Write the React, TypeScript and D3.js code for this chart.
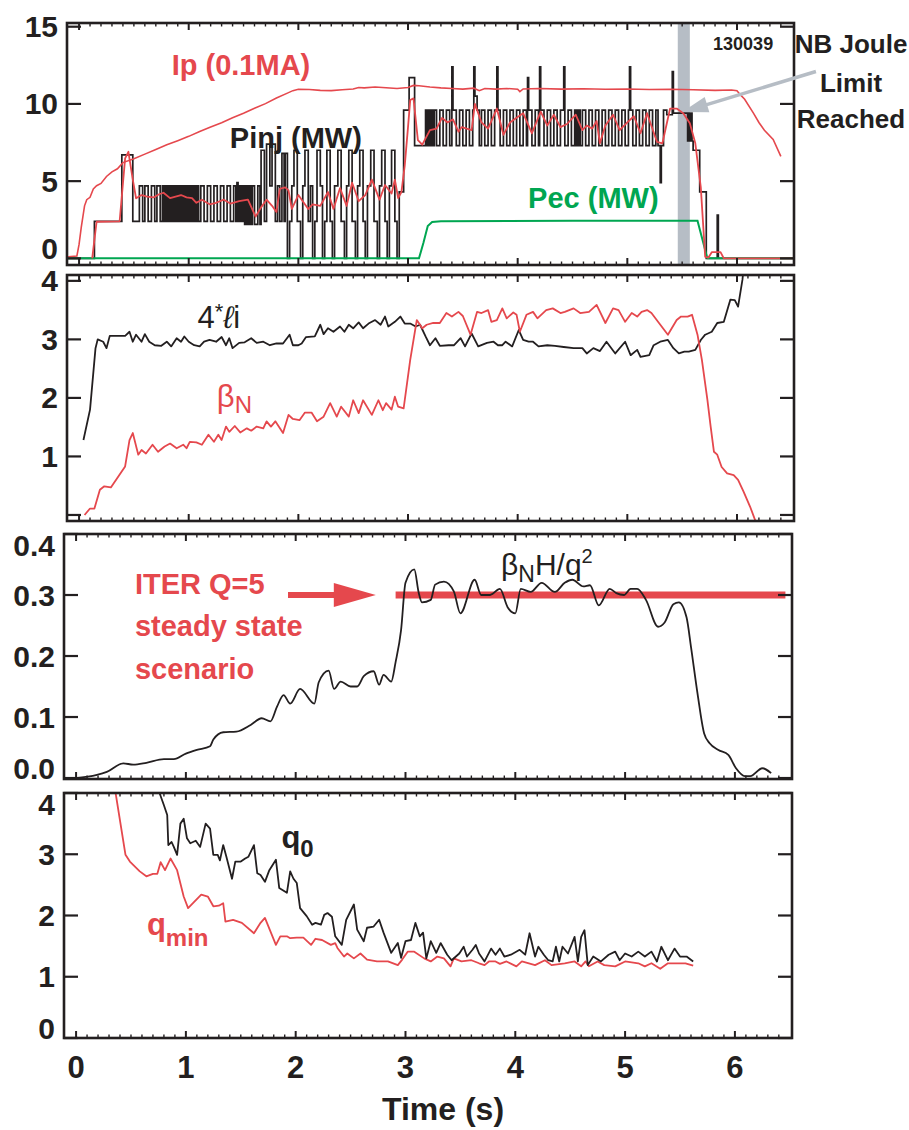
import React from 'react';
import * as d3 from 'd3';

// shot 130039 traces (time in s)
const T_DOMAIN: [number, number] = [-0.11, 6.52];

const ipTrace: [number, number][] = [
  [-0.1, 0.1], [-0.02, 0.15], [0.0, 0.9], [0.02, 2.0], [0.05, 3.4], [0.07, 3.8], [0.1, 3.95], [0.13, 4.5],
  [0.16, 4.7], [0.2, 4.85], [0.25, 5.3], [0.3, 5.6], [0.35, 5.8], [0.4, 6.2], [0.5, 6.45], [0.6, 6.75],
  [0.7, 7.05], [0.8, 7.35], [0.9, 7.62], [1.0, 7.9], [1.1, 8.22], [1.2, 8.5], [1.3, 8.78], [1.4, 9.1],
  [1.5, 9.4], [1.6, 9.72], [1.7, 10.02], [1.8, 10.38], [1.9, 10.7], [1.95, 10.86], [2.0, 10.95], [2.1, 10.93],
  [2.2, 10.88], [2.3, 10.86], [2.4, 10.92], [2.5, 10.97], [2.55, 11.06], [2.6, 11.04], [2.7, 11.1], [2.8, 11.05],
  [2.9, 11.0], [3.0, 11.06], [3.05, 11.2], [3.1, 11.18], [3.2, 11.1], [3.3, 11.04], [3.4, 11.0], [3.5, 10.96],
  [3.6, 11.02], [3.65, 10.86], [3.7, 11.0], [3.8, 10.96], [3.9, 11.0], [4.0, 10.95], [4.02, 10.8], [4.05, 10.97],
  [4.2, 11.0], [4.4, 10.96], [4.6, 10.98], [4.8, 10.95], [5.0, 10.97], [5.2, 10.93], [5.4, 10.95], [5.6, 10.92],
  [5.8, 10.88], [5.95, 10.9], [6.0, 10.85], [6.03, 10.6], [6.07, 10.3], [6.15, 9.4], [6.2, 8.8], [6.25, 8.3],
  [6.33, 7.7], [6.4, 6.6],
];

// neutral beam power, a modulated square wave (step after)
const pinjSteps: [number, number][] = [
  [-0.1, 0], [0.14, 2.4], [0.39, 6.7], [0.49, 2.4], [0.55, 4.7], [0.58, 2.4], [0.6, 4.7], [0.63, 2.4],
  [0.66, 4.7], [0.69, 2.4], [0.71, 4.7], [0.74, 2.4], [0.76, 4.7], [0.77, 2.4], [0.78, 4.7], [0.79, 2.4],
  [0.8, 4.7], [0.81, 2.4], [0.82, 4.7], [0.83, 2.4], [0.84, 4.7], [0.85, 2.4], [0.86, 4.7], [0.87, 2.4],
  [0.88, 4.7], [0.89, 2.4], [0.9, 4.7], [0.91, 2.4], [0.92, 4.7], [0.93, 2.4], [0.94, 4.7], [0.95, 2.4],
  [0.96, 4.7], [0.97, 2.4], [0.98, 4.7], [0.99, 2.4], [1.0, 4.7], [1.01, 2.4], [1.02, 4.7], [1.03, 2.4],
  [1.04, 4.7], [1.05, 2.4], [1.06, 4.7], [1.07, 2.4], [1.08, 4.7], [1.09, 2.4], [1.11, 4.7], [1.14, 2.4],
  [1.17, 4.7], [1.2, 2.4], [1.23, 4.7], [1.26, 2.4], [1.29, 4.7], [1.32, 2.4], [1.35, 4.7], [1.38, 2.4],
  [1.41, 4.7], [1.43, 2.4], [1.44, 4.9], [1.45, 2.4],
  [1.46, 4.7], [1.47, 2.4], [1.48, 4.7], [1.49, 2.4], [1.5, 4.7], [1.51, 2.2], [1.52, 4.7], [1.53, 2.2],
  [1.54, 4.7], [1.55, 2.2], [1.56, 4.7], [1.57, 2.2], [1.58, 4.7], [1.6, 2.2], [1.63, 4.7], [1.65, 2.2],
  [1.66, 7.0], [1.69, 2.4], [1.71, 7.4], [1.74, 4.7], [1.76, 7.4], [1.79, 2.4], [1.81, 4.7], [1.83, 2.4],
  [1.85, 6.8], [1.87, 2.4], [1.88, 6.8], [1.9, 0], [1.92, 2.4], [1.94, 4.7], [1.96, 7.0], [1.99, 2.4],
  [2.02, 0], [2.04, 4.7], [2.06, 7.0], [2.09, 2.4], [2.11, 4.7], [2.13, 0], [2.15, 2.4], [2.17, 7.0],
  [2.2, 4.7], [2.22, 0], [2.24, 2.4], [2.26, 7.0], [2.29, 2.4], [2.31, 0], [2.33, 4.7], [2.36, 7.0],
  [2.39, 2.4], [2.42, 0], [2.44, 4.7], [2.46, 7.0], [2.49, 2.4], [2.52, 0], [2.54, 4.7], [2.56, 7.0],
  [2.59, 2.4], [2.61, 0], [2.63, 4.7], [2.66, 7.0], [2.69, 2.4], [2.72, 0], [2.74, 4.7], [2.76, 7.0],
  [2.79, 2.4], [2.81, 0], [2.83, 4.7], [2.85, 7.0], [2.88, 2.4], [2.9, 0], [2.92, 4.3], [2.96, 9.6],
  [3.01, 11.7], [3.06, 7.3], [3.16, 9.6], [3.17, 7.3], [3.18, 9.6], [3.19, 7.3], [3.2, 9.6], [3.21, 7.3],
  [3.22, 9.6], [3.23, 7.3], [3.24, 9.6], [3.26, 7.3], [3.29, 9.6], [3.32, 7.3], [3.35, 9.6], [3.38, 7.3],
  [3.4, 12.4], [3.41, 9.6], [3.44, 7.3], [3.47, 9.6], [3.5, 7.3], [3.53, 9.6], [3.56, 7.3], [3.59, 9.6],
  [3.6, 12.4], [3.61, 10.5], [3.63, 9.6], [3.65, 7.3], [3.67, 9.6], [3.7, 7.3], [3.73, 9.6], [3.76, 7.3],
  [3.79, 9.6], [3.81, 12.4], [3.82, 9.6], [3.84, 7.3], [3.87, 9.6], [3.9, 7.3], [3.93, 9.6], [3.96, 7.3],
  [3.99, 9.6], [4.02, 7.3], [4.05, 9.6], [4.08, 7.3], [4.09, 11.7], [4.1, 9.6], [4.13, 7.3], [4.16, 9.6],
  [4.19, 7.3], [4.2, 12.4], [4.21, 9.6], [4.24, 7.3], [4.27, 9.6], [4.3, 7.3], [4.33, 9.6], [4.36, 7.3],
  [4.39, 9.6], [4.42, 12.4], [4.43, 7.3], [4.46, 9.6], [4.49, 7.3], [4.52, 9.6], [4.53, 7.3], [4.54, 9.6],
  [4.55, 7.3], [4.56, 9.6], [4.57, 7.3], [4.59, 9.6], [4.62, 7.3], [4.65, 9.6], [4.68, 7.3], [4.71, 9.6],
  [4.74, 7.3], [4.77, 9.6], [4.8, 7.3], [4.83, 9.6], [4.86, 7.3], [4.89, 9.6], [4.92, 7.3], [4.95, 9.6],
  [4.98, 7.3], [5.01, 9.6], [5.02, 12.4], [5.03, 9.6], [5.05, 7.3], [5.08, 9.6], [5.11, 7.3], [5.14, 9.6],
  [5.17, 7.3], [5.2, 9.6], [5.23, 7.3], [5.26, 9.6], [5.28, 7.3], [5.3, 4.9], [5.31, 7.3], [5.33, 9.6],
  [5.36, 9.3], [5.41, 12.1], [5.42, 9.4], [5.55, 7.6], [5.56, 9.4], [5.57, 7.6], [5.58, 9.4], [5.59, 7.6],
  [5.6, 7.0], [5.66, 4.3], [5.72, 0], [5.82, 2.8], [5.83, 0], [6.52, 0],
];

// smoothed beam power (red trace through Pinj)
const pinjAvg: [number, number][] = [
  [0.12, 0], [0.14, 1.2], [0.16, 2.37], [0.37, 2.4], [0.42, 6.47], [0.45, 6.9], [0.49, 5.1], [0.52, 3.89],
  [0.57, 4.1], [0.62, 4.0], [0.68, 3.95], [0.73, 4.15], [0.77, 4.25], [0.83, 3.9], [0.88, 4.0], [0.93, 4.1],
  [0.98, 3.95], [1.03, 3.9], [1.07, 3.6], [1.12, 3.8], [1.19, 3.5], [1.25, 3.6], [1.32, 3.8], [1.38, 3.55],
  [1.46, 3.7], [1.54, 3.8], [1.61, 2.7], [1.66, 3.3], [1.71, 3.8], [1.76, 3.4], [1.8, 3.0], [1.83, 4.5],
  [1.88, 4.6], [1.91, 4.4], [1.94, 3.2], [2.0, 4.1], [2.04, 3.7], [2.09, 3.2], [2.13, 3.5], [2.2, 3.4],
  [2.27, 4.3], [2.32, 3.2], [2.38, 4.55], [2.44, 3.4], [2.49, 4.9], [2.55, 3.7], [2.61, 4.1], [2.67, 5.1],
  [2.74, 3.8], [2.79, 4.75], [2.85, 4.2], [2.88, 5.1], [2.91, 3.9], [2.94, 4.3], [2.97, 6.0], [3.0, 8.5],
  [3.02, 10.25], [3.05, 10.36], [3.09, 7.66], [3.13, 7.36], [3.2, 8.3], [3.26, 8.4], [3.31, 9.1], [3.36, 8.8],
  [3.41, 9.0], [3.46, 8.2], [3.49, 8.5], [3.58, 8.3], [3.61, 10.0], [3.67, 8.8], [3.73, 8.4], [3.81, 9.7],
  [3.87, 8.0], [3.93, 8.8], [3.99, 9.1], [4.05, 9.4], [4.13, 8.1], [4.21, 9.5], [4.27, 8.6], [4.33, 9.3],
  [4.39, 8.5], [4.45, 8.7], [4.53, 9.3], [4.59, 8.3], [4.63, 8.6], [4.68, 8.4], [4.72, 8.9], [4.75, 7.45],
  [4.8, 8.6], [4.87, 9.3], [4.93, 8.3], [5.0, 8.8], [5.06, 9.2], [5.12, 8.1], [5.18, 9.4], [5.27, 7.55],
  [5.32, 7.45], [5.39, 9.7], [5.45, 9.7], [5.51, 9.4], [5.57, 8.75], [5.62, 7.45], [5.67, 4.6], [5.71, 0.1],
  [5.74, 0.05], [5.77, 0.4], [5.85, 0.4], [5.88, 0], [6.52, 0],
];

const pecTrace: [number, number][] = [
  [-0.1, 0], [3.1, 0], [3.14, 1.0], [3.18, 2.1], [3.22, 2.35], [3.3, 2.4], [4.5, 2.43], [5.64, 2.43],
  [5.73, 0], [6.52, 0],
];

const li4Trace: [number, number][] = [
  [0.04, 1.28], [0.1, 1.8], [0.15, 2.85], [0.17, 3.0], [0.22, 2.96], [0.25, 2.85], [0.28, 3.06], [0.42, 3.06],
  [0.46, 3.13], [0.49, 2.96], [0.52, 3.08], [0.57, 2.96], [0.6, 3.09], [0.64, 2.96], [0.69, 2.9], [0.75, 2.89],
  [0.8, 2.96], [0.84, 2.88], [0.89, 3.02], [0.93, 2.96], [0.96, 3.05], [1.0, 2.96], [1.05, 2.9], [1.1, 2.88],
  [1.14, 2.96], [1.19, 2.99], [1.25, 2.96], [1.3, 3.04], [1.34, 2.9], [1.37, 3.02], [1.4, 2.85], [1.46, 2.94],
  [1.51, 2.95], [1.57, 3.02], [1.62, 2.94], [1.68, 2.96], [1.74, 2.9], [1.8, 2.93], [1.86, 2.93], [1.92, 3.08],
  [1.95, 2.9], [2.0, 2.9], [2.03, 2.93], [2.07, 3.04], [2.15, 3.05], [2.2, 3.25], [2.23, 3.09], [2.27, 3.19],
  [2.32, 3.13], [2.38, 3.22], [2.42, 3.13], [2.46, 3.25], [2.5, 3.19], [2.55, 3.29], [2.59, 3.19], [2.64, 3.27],
  [2.7, 3.33], [2.75, 3.25], [2.79, 3.39], [2.82, 3.22], [2.88, 3.3], [2.93, 3.39], [2.97, 3.27], [3.02, 3.27],
  [3.07, 3.22], [3.11, 3.25], [3.16, 3.05], [3.2, 2.9], [3.25, 3.02], [3.29, 2.89], [3.37, 2.9], [3.42, 2.9],
  [3.48, 3.02], [3.52, 2.88], [3.58, 3.1], [3.64, 2.88], [3.72, 2.94], [3.78, 2.96], [3.82, 2.9], [3.86, 2.9],
  [3.89, 2.96], [3.95, 2.88], [4.01, 3.16], [4.05, 2.99], [4.1, 2.96], [4.14, 2.96], [4.19, 2.88], [4.27, 2.9],
  [4.34, 2.89], [4.42, 2.87], [4.51, 2.85], [4.59, 2.85], [4.63, 2.76], [4.69, 2.85], [4.75, 2.8], [4.81, 2.96],
  [4.89, 2.76], [4.98, 2.96], [5.03, 2.73], [5.09, 2.82], [5.12, 2.7], [5.2, 2.73], [5.24, 2.9], [5.3, 2.96],
  [5.37, 2.99], [5.42, 2.85], [5.47, 2.76], [5.52, 2.79], [5.56, 2.79], [5.62, 2.82], [5.67, 2.99], [5.71, 3.08],
  [5.77, 3.13], [5.82, 3.28], [5.88, 3.3], [5.94, 3.68], [5.98, 3.67], [6.01, 3.56], [6.05, 4.02], [6.07, 4.4],
];

const betaNTrace: [number, number][] = [
  [0.05, 0], [0.1, 0.11], [0.14, 0.11], [0.19, 0.43], [0.23, 0.49], [0.29, 0.47], [0.42, 0.83], [0.46, 1.28],
  [0.49, 1.4], [0.54, 1.03], [0.57, 1.11], [0.61, 1.05], [0.67, 1.2], [0.72, 1.08], [0.78, 1.17], [0.83, 1.22],
  [0.89, 1.14], [0.95, 1.2], [0.98, 1.14], [1.01, 1.25], [1.07, 1.24], [1.12, 1.2], [1.18, 1.37], [1.23, 1.25],
  [1.27, 1.37], [1.3, 1.28], [1.34, 1.51], [1.37, 1.42], [1.42, 1.52], [1.47, 1.41], [1.53, 1.48], [1.57, 1.44],
  [1.62, 1.51], [1.68, 1.48], [1.71, 1.6], [1.75, 1.51], [1.79, 1.6], [1.86, 1.4], [1.91, 1.71], [1.95, 1.64],
  [2.01, 1.62], [2.06, 1.75], [2.12, 1.75], [2.17, 1.6], [2.23, 1.68], [2.29, 1.91], [2.35, 1.68], [2.39, 1.85],
  [2.46, 1.68], [2.5, 1.96], [2.55, 1.74], [2.59, 1.96], [2.67, 1.71], [2.73, 1.96], [2.77, 1.79], [2.8, 1.91],
  [2.85, 1.8], [2.88, 2.02], [2.91, 1.85], [2.96, 1.82], [3.02, 2.65], [3.08, 3.33], [3.13, 3.19], [3.17, 3.25],
  [3.23, 3.28], [3.29, 3.28], [3.35, 3.45], [3.4, 3.39], [3.46, 3.47], [3.5, 3.4], [3.57, 3.08], [3.63, 3.47],
  [3.67, 3.45], [3.73, 3.5], [3.76, 3.3], [3.81, 3.33], [3.86, 3.53], [3.9, 3.36], [3.96, 3.46], [3.99, 3.42],
  [4.02, 3.13], [4.08, 3.42], [4.14, 3.47], [4.18, 3.36], [4.26, 3.5], [4.32, 3.53], [4.39, 3.45], [4.43, 3.47],
  [4.51, 3.53], [4.57, 3.45], [4.65, 3.47], [4.72, 3.59], [4.8, 3.28], [4.87, 3.53], [4.92, 3.5], [4.98, 3.3],
  [5.04, 3.45], [5.09, 3.39], [5.13, 3.47], [5.18, 3.5], [5.22, 3.45], [5.28, 3.3], [5.37, 3.08], [5.45, 3.33],
  [5.49, 3.39], [5.55, 3.39], [5.59, 3.42], [5.64, 3.08], [5.68, 2.65], [5.73, 1.97], [5.76, 1.51], [5.79, 1.08],
  [5.82, 1.03], [5.86, 0.82], [5.91, 0.71], [5.97, 0.68], [6.01, 0.6], [6.06, 0.4], [6.12, 0.14], [6.17, -0.11],
];

const bnhTrace: [number, number][] = [
  [-0.01, 0], [0.19, 0.005], [0.28, 0.01], [0.43, 0.024], [0.52, 0.022], [0.64, 0.025], [0.8, 0.031], [0.89, 0.031],
  [1.0, 0.04], [1.1, 0.046], [1.22, 0.052], [1.25, 0.063], [1.34, 0.075], [1.46, 0.076], [1.59, 0.087], [1.69, 0.098],
  [1.77, 0.093], [1.83, 0.117], [1.89, 0.136], [1.95, 0.122], [2.04, 0.146], [2.17, 0.122], [2.21, 0.157], [2.3, 0.176],
  [2.35, 0.146], [2.41, 0.158], [2.5, 0.15], [2.56, 0.15], [2.62, 0.167], [2.71, 0.175], [2.76, 0.153], [2.8, 0.169],
  [2.87, 0.158], [2.91, 0.19], [2.96, 0.243], [3.0, 0.32], [3.08, 0.342], [3.12, 0.304], [3.15, 0.288], [3.23, 0.292],
  [3.27, 0.317], [3.35, 0.322], [3.44, 0.306], [3.5, 0.27], [3.63, 0.325], [3.69, 0.3], [3.77, 0.3], [3.86, 0.31],
  [3.93, 0.28], [4.0, 0.27], [4.05, 0.31], [4.14, 0.305], [4.24, 0.32], [4.36, 0.305], [4.45, 0.32], [4.52, 0.325],
  [4.62, 0.314], [4.68, 0.316], [4.76, 0.283], [4.86, 0.31], [4.92, 0.303], [4.99, 0.3], [5.05, 0.31], [5.11, 0.31],
  [5.19, 0.292], [5.3, 0.248], [5.36, 0.255], [5.44, 0.285], [5.49, 0.288], [5.56, 0.263], [5.6, 0.215], [5.66, 0.138],
  [5.72, 0.073], [5.77, 0.057], [5.85, 0.046], [5.94, 0.038], [6.01, 0.016], [6.09, 0.003], [6.14, 0.003], [6.25, 0.016],
  [6.33, 0.008],
];

const iterTarget = { value: 0.3, start: 2.91, end: 6.46, arrowFrom: 1.93, arrowTo: 2.73 };

const q0Trace: [number, number][] = [
  [0.7, 4.6], [0.76, 4.0], [0.8, 3.8], [0.83, 3.64], [0.84, 3.15], [0.87, 3.2], [0.89, 3.12], [0.92, 2.99],
  [0.95, 3.5], [0.98, 3.58], [1.01, 3.26], [1.04, 3.18], [1.09, 3.22], [1.13, 3.12], [1.18, 3.5], [1.22, 3.42],
  [1.25, 2.99], [1.29, 2.99], [1.31, 2.9], [1.34, 3.15], [1.37, 2.95], [1.42, 2.6], [1.45, 2.88], [1.5, 2.88],
  [1.54, 2.93], [1.57, 2.96], [1.62, 3.15], [1.65, 2.69], [1.68, 2.66], [1.72, 2.55], [1.76, 2.74], [1.82, 2.91],
  [1.85, 2.45], [1.92, 2.37], [1.95, 2.72], [1.98, 2.6], [2.01, 2.53], [2.04, 2.12], [2.1, 1.99], [2.15, 1.85],
  [2.18, 1.88], [2.23, 1.85], [2.26, 2.01], [2.29, 2.04], [2.33, 1.98], [2.36, 1.66], [2.42, 1.52], [2.46, 1.93],
  [2.53, 2.18], [2.56, 1.77], [2.62, 1.58], [2.65, 1.8], [2.71, 1.82], [2.76, 1.93], [2.8, 1.72], [2.87, 1.39],
  [2.93, 1.55], [2.96, 1.31], [3.0, 1.58], [3.05, 1.6], [3.09, 1.88], [3.13, 1.66], [3.16, 1.72], [3.19, 1.3],
  [3.23, 1.58], [3.28, 1.39], [3.32, 1.55], [3.38, 1.36], [3.42, 1.27], [3.49, 1.38], [3.53, 1.49], [3.56, 1.33],
  [3.61, 1.44], [3.64, 1.52], [3.67, 1.38], [3.72, 1.25], [3.78, 1.46], [3.82, 1.36], [3.86, 1.46], [3.9, 1.33],
  [3.96, 1.36], [4.04, 1.44], [4.09, 1.36], [4.13, 1.71], [4.18, 1.33], [4.21, 1.49], [4.26, 1.36], [4.3, 1.27],
  [4.34, 1.25], [4.37, 1.49], [4.4, 1.25], [4.43, 1.49], [4.48, 1.38], [4.54, 1.65], [4.57, 1.25], [4.6, 1.65],
  [4.63, 1.76], [4.66, 1.19], [4.71, 1.33], [4.78, 1.25], [4.85, 1.36], [4.91, 1.41], [4.95, 1.27], [5.0, 1.38],
  [5.06, 1.33], [5.12, 1.41], [5.18, 1.33], [5.24, 1.41], [5.29, 1.25], [5.33, 1.49], [5.39, 1.27], [5.45, 1.46],
  [5.5, 1.33], [5.56, 1.33], [5.62, 1.25],
];

const qminTrace: [number, number][] = [
  [0.3, 4.6], [0.36, 4.0], [0.45, 2.99], [0.49, 2.88], [0.58, 2.72], [0.64, 2.64], [0.7, 2.68], [0.74, 2.68],
  [0.77, 2.87], [0.81, 2.74], [0.86, 2.93], [0.92, 2.74], [0.98, 2.31], [1.02, 2.12], [1.14, 2.34], [1.2, 2.31],
  [1.25, 2.15], [1.3, 2.16], [1.34, 2.2], [1.36, 1.9], [1.43, 1.93], [1.51, 1.88], [1.62, 1.71], [1.68, 1.88],
  [1.72, 1.96], [1.77, 1.74], [1.82, 1.52], [1.86, 1.66], [1.92, 1.66], [1.95, 1.63], [2.01, 1.64], [2.07, 1.64],
  [2.14, 1.52], [2.18, 1.62], [2.24, 1.6], [2.32, 1.52], [2.36, 1.55], [2.38, 1.47], [2.44, 1.33], [2.47, 1.38],
  [2.53, 1.3], [2.59, 1.38], [2.65, 1.28], [2.74, 1.25], [2.84, 1.25], [2.93, 1.19], [2.97, 1.28], [3.02, 1.41],
  [3.08, 1.41], [3.17, 1.3], [3.23, 1.25], [3.29, 1.33], [3.35, 1.3], [3.41, 1.17], [3.44, 1.3], [3.51, 1.25],
  [3.6, 1.27], [3.67, 1.22], [3.72, 1.19], [3.76, 1.25], [3.82, 1.25], [3.86, 1.21], [3.92, 1.25], [4.01, 1.17],
  [4.06, 1.25], [4.18, 1.19], [4.27, 1.27], [4.33, 1.19], [4.45, 1.22], [4.54, 1.25], [4.6, 1.17], [4.64, 1.25],
  [4.67, 1.17], [4.75, 1.25], [4.81, 1.19], [4.91, 1.17], [5.0, 1.25], [5.12, 1.22], [5.18, 1.17], [5.24, 1.22],
  [5.32, 1.13], [5.39, 1.22], [5.55, 1.22], [5.62, 1.18],
];

const jouleLimit = { from: 5.46, to: 5.57 };

const p1Ticks = [0, 5, 10, 15];
const p2Ticks = [0, 1, 2, 3, 4];
const p2Labels = [1, 2, 3, 4];
const p3Ticks = [0, 0.1, 0.2, 0.3, 0.4];
const p4Ticks = [0, 1, 2, 3, 4];
const timeTicks = [0, 1, 2, 3, 4, 5, 6];

const FONT = "'Liberation Sans', Arial, Helvetica, sans-serif";
const INK = '#231f20';
const RED = '#e5484d';
const GREEN = '#00a651';
const GREY = '#b6bdc5';

type Panel = {
  id: string;
  left: number;
  right: number;
  top: number;
  bottom: number;
  yDomain: [number, number];
  ticks: number[];
  labels: number[];
  fmt: (v: number) => string;
  shiftTop: boolean;
};

const panels: Panel[] = [
  { id: 'p1', left: 67, right: 794, top: 23, bottom: 265, yDomain: [-0.43, 15.24], ticks: p1Ticks, labels: p1Ticks, fmt: String, shiftTop: false },
  { id: 'p2', left: 67, right: 794, top: 275, bottom: 521, yDomain: [-0.103, 4.1], ticks: p2Ticks, labels: p2Labels, fmt: String, shiftTop: false },
  { id: 'p3', left: 64, right: 792, top: 534, bottom: 779, yDomain: [-0.0016, 0.4], ticks: p3Ticks, labels: p3Ticks, fmt: d3.format('.1f'), shiftTop: true },
  { id: 'p4', left: 64, right: 792, top: 793, bottom: 1038, yDomain: [0, 4], ticks: p4Ticks, labels: p4Ticks, fmt: String, shiftTop: true },
];

function scalesFor(p: Panel) {
  const x = d3.scaleLinear().domain(T_DOMAIN).range([p.left, p.right]);
  const y = d3.scaleLinear().domain(p.yDomain).range([p.bottom, p.top]);
  return { x, y };
}

function Frame({ p }: { p: Panel }) {
  const { x, y } = scalesFor(p);
  const minor = d3.range(0, 65).map((i) => i / 10).filter((t) => t > T_DOMAIN[0] && t < T_DOMAIN[1]);
  return (
    <g>
      {minor.map((t, i) => {
        const major = Math.abs(t - Math.round(t)) < 1e-6;
        const len = major ? 7 : 3.5;
        return (
          <g key={i} stroke={INK} strokeWidth={major ? 2 : 1.4}>
            <line x1={x(t)} x2={x(t)} y1={p.top} y2={p.top + len} />
            <line x1={x(t)} x2={x(t)} y1={p.bottom} y2={p.bottom - len} />
          </g>
        );
      })}
      {p.ticks.map((v) => (
        <g key={v} stroke={INK} strokeWidth={2.2}>
          <line x1={p.left} x2={p.left + 14} y1={y(v)} y2={y(v)} />
          <line x1={p.right} x2={p.right - 14} y1={y(v)} y2={y(v)} />
        </g>
      ))}
      <rect x={p.left} y={p.top} width={p.right - p.left} height={p.bottom - p.top} fill="none" stroke={INK} strokeWidth={2.6} />
      {p.labels.map((v) => {
        let cy = y(v);
        if (v === p.ticks[0]) cy -= 10;
        if (p.shiftTop && v === p.ticks[p.ticks.length - 1]) cy += 11;
        return (
          <text key={v} x={p.left - 9} y={cy + 10.5} textAnchor="end" fontFamily={FONT} fontWeight="bold" fontSize={30} fill={INK}>
            {p.fmt(v)}
          </text>
        );
      })}
    </g>
  );
}

function arrowPath(x0: number, y0: number, x1: number, y1: number, headLen: number, headHalf: number) {
  const dx = x1 - x0;
  const dy = y1 - y0;
  const L = Math.hypot(dx, dy);
  const ux = dx / L;
  const uy = dy / L;
  const bx = x1 - ux * headLen;
  const by = y1 - uy * headLen;
  return {
    shaft: { x1: x0, y1: y0, x2: bx + ux * 2, y2: by + uy * 2 },
    head: `M${x1},${y1}L${bx - uy * headHalf},${by + ux * headHalf}L${bx + uy * headHalf},${by - ux * headHalf}Z`,
  };
}

export default function App() {
  const [P1, P2, P3, P4] = panels;
  const s1 = scalesFor(P1);
  const s2 = scalesFor(P2);
  const s3 = scalesFor(P3);
  const s4 = scalesFor(P4);

  const mk = (s: { x: d3.ScaleLinear<number, number>; y: d3.ScaleLinear<number, number> }, curve: d3.CurveFactory = d3.curveLinear) =>
    d3.line<[number, number]>().x((d) => s.x(d[0])).y((d) => s.y(d[1])).curve(curve);

  const line1 = mk(s1);
  const step1 = mk(s1, d3.curveStepAfter);
  const line2 = mk(s2);
  const line3 = mk(s3, d3.curveMonotoneX);
  const line4 = mk(s4);

  const nbArrow = arrowPath(s1.x(6.72), s1.y(12.1), s1.x(5.5), s1.y(9.47), 26, 8);
  const iterArrow = arrowPath(s3.x(iterTarget.arrowFrom), s3.y(iterTarget.value), s3.x(iterTarget.arrowTo), s3.y(iterTarget.value), 42, 12);

  return (
    <svg width={909} height={1130} style={{ position: 'absolute', left: 0, top: 0, background: '#fff' }}>
      <defs>
        {panels.map((p) => (
          <clipPath key={p.id} id={`clip-${p.id}`}>
            <rect x={p.left} y={p.top} width={p.right - p.left} height={p.bottom - p.top} />
          </clipPath>
        ))}
      </defs>

      {/* panel 1: Ip, Pinj, Pec */}
      <g clipPath="url(#clip-p1)">
        <rect x={s1.x(jouleLimit.from)} y={P1.top} width={s1.x(jouleLimit.to) - s1.x(jouleLimit.from)} height={P1.bottom - P1.top} fill={GREY} />
        <path d={step1(pinjSteps) || ''} fill="none" stroke={INK} strokeWidth={1.7} />
        <path d={line1(pecTrace) || ''} fill="none" stroke={GREEN} strokeWidth={2} />
        <path d={line1(ipTrace) || ''} fill="none" stroke={RED} strokeWidth={1.6} />
        <path d={line1(pinjAvg) || ''} fill="none" stroke={RED} strokeWidth={1.8} strokeLinejoin="round" />
      </g>
      <Frame p={P1} />
      <line {...nbArrow.shaft} stroke={GREY} strokeWidth={3.5} />
      <path d={nbArrow.head} fill={GREY} />
      <g fontFamily={FONT} fontWeight="bold">
        <text x={s1.x(0.845)} y={s1.y(11.87)} fontSize={29} fill={RED}>Ip (0.1MA)</text>
        <text x={s1.x(1.375)} y={s1.y(7.14)} fontSize={29} fill={INK}>Pinj (MW)</text>
        <text x={s1.x(4.095)} y={s1.y(3.26)} fontSize={29} fill={GREEN}>Pec (MW)</text>
        <text x={s1.x(6.33)} y={s1.y(13.49)} fontSize={18} fill={INK} textAnchor="end">130039</text>
        <g fontSize={26} fill={INK} textAnchor="middle">
          <text x={851} y={53}>NB Joule</text>
          <text x={851} y={92}>Limit</text>
          <text x={851} y={128}>Reached</text>
        </g>
      </g>

      {/* panel 2: 4*li, betaN */}
      <g clipPath="url(#clip-p2)">
        <path d={line2(li4Trace) || ''} fill="none" stroke={INK} strokeWidth={1.8} strokeLinejoin="round" />
        <path d={line2(betaNTrace) || ''} fill="none" stroke={RED} strokeWidth={1.8} strokeLinejoin="round" />
      </g>
      <Frame p={P2} />
      <text x={s2.x(1.08)} y={s2.y(3.2)} fontFamily={FONT} fontSize={31} fill={INK}>
        4<tspan fontSize={22} dy={-9}>*</tspan>
        <tspan dy={9} fontStyle="italic">ℓ</tspan>
        <tspan>i</tspan>
      </text>
      <text x={s2.x(1.256)} y={s2.y(1.85)} fontFamily={FONT} fontSize={31} fill={RED}>
        β<tspan fontSize={24} dy={6}>N</tspan>
      </text>

      {/* panel 3: betaN H / q95^2 */}
      <g clipPath="url(#clip-p3)">
        <line x1={s3.x(iterTarget.start)} x2={s3.x(iterTarget.end)} y1={s3.y(iterTarget.value)} y2={s3.y(iterTarget.value)} stroke={RED} strokeWidth={7} />
        <path d={line3(bnhTrace) || ''} fill="none" stroke={INK} strokeWidth={1.8} />
      </g>
      <Frame p={P3} />
      <line {...iterArrow.shaft} stroke={RED} strokeWidth={6} />
      <path d={iterArrow.head} fill={RED} />
      <g fontFamily={FONT} fontWeight="bold" fontSize={29} fill={RED}>
        <text x={s3.x(0.536)} y={s3.y(0.302)}>ITER Q=5</text>
        <text x={s3.x(0.536)} y={s3.y(0.233)}>steady state</text>
        <text x={s3.x(0.536)} y={s3.y(0.162)}>scenario</text>
      </g>
      <text x={s3.x(3.87)} y={s3.y(0.333)} fontFamily={FONT} fontSize={30} fill={INK}>
        β<tspan fontSize={23} dy={7}>N</tspan>
        <tspan dy={-7}>H/q</tspan>
        <tspan fontSize={20} dy={-12}>2</tspan>
      </text>

      {/* panel 4: q0, qmin */}
      <g clipPath="url(#clip-p4)">
        <path d={line4(qminTrace) || ''} fill="none" stroke={RED} strokeWidth={1.8} strokeLinejoin="round" />
        <path d={line4(q0Trace) || ''} fill="none" stroke={INK} strokeWidth={1.8} strokeLinejoin="round" />
      </g>
      <Frame p={P4} />
      <text x={s4.x(1.87)} y={s4.y(3.1)} fontFamily={FONT} fontWeight="bold" fontSize={31} fill={INK}>
        q<tspan fontSize={24} dy={9}>0</tspan>
      </text>
      <text x={s4.x(0.645)} y={s4.y(1.68)} fontFamily={FONT} fontWeight="bold" fontSize={31} fill={RED}>
        q<tspan fontSize={24} dy={11}>min</tspan>
      </text>

      {/* time axis */}
      <g fontFamily={FONT} fontWeight="bold" fill={INK}>
        {timeTicks.map((t) => (
          <text key={t} x={s4.x(t)} y={1078} fontSize={31} textAnchor="middle">{t}</text>
        ))}
        <text x={443} y={1120} fontSize={32} textAnchor="middle">Time (s)</text>
      </g>
    </svg>
  );
}
